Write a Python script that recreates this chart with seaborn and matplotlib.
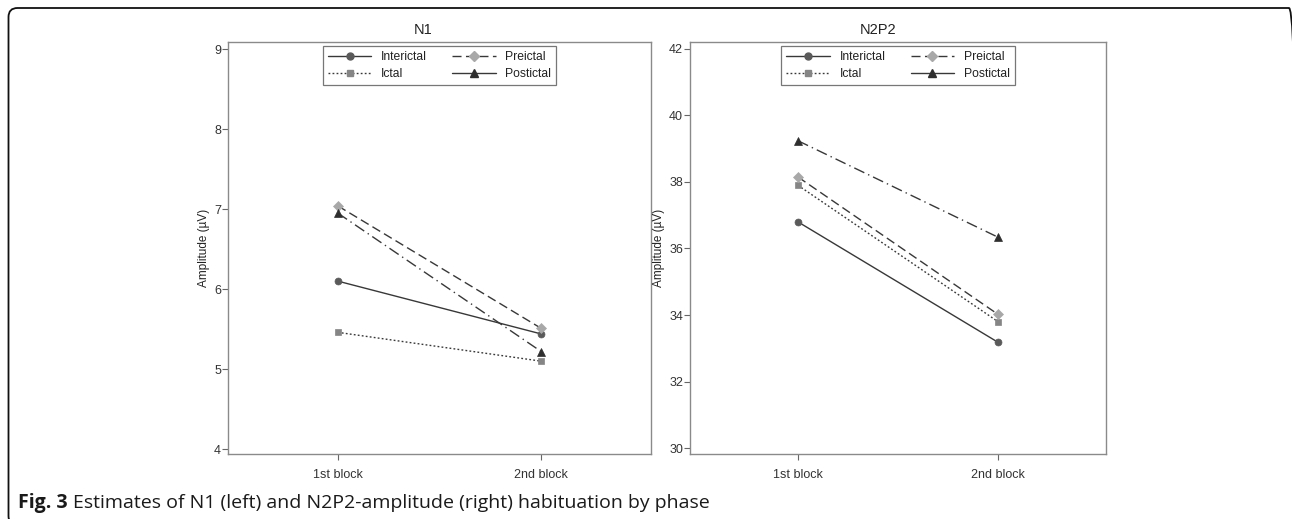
import matplotlib
matplotlib.use("Agg")
import matplotlib.pyplot as plt
from matplotlib.lines import Line2D
from matplotlib.patches import FancyBboxPatch
import seaborn as sns
import pandas as pd

# ---------------- data ----------------
blocks = ["1st block", "2nd block"]
phases = ["Interictal", "Ictal", "Preictal", "Postictal"]

n1_interictal = [6.10, 5.44]
n1_ictal = [5.46, 5.10]
n1_preictal = [7.04, 5.51]
n1_postictal = [6.95, 5.22]

n2p2_interictal = [36.80, 33.18]
n2p2_ictal = [37.90, 33.80]
n2p2_preictal = [38.15, 34.02]
n2p2_postictal = [39.24, 36.34]

n1_ticks = [4, 5, 6, 7, 8, 9]
n2p2_ticks = [30, 32, 34, 36, 38, 40, 42]

panel_titles = ["N1", "N2P2"]
y_label = "Amplitude (µV)"
caption_bold = "Fig. 3"
caption_text = "Estimates of N1 (left) and N2P2-amplitude (right) habituation by phase"

# ---------------- styles ----------------
line_col = "#383838"
styles = {
    "Interictal": dict(marker="o", mfc="#5a5a5a", ms=5.0, dashes=None, leg_ls="-"),
    "Ictal": dict(marker="s", mfc="#858585", ms=5.0, dashes=(1.3, 1.6), leg_ls=(0, (1.3, 1.6))),
    "Preictal": dict(marker="D", mfc="#a8a8a8", ms=4.6, dashes=(6.5, 3.2), leg_ls=(0, (6.5, 3.2))),
    "Postictal": dict(marker="^", mfc="#2e2e2e", ms=5.6, dashes=(8, 3, 1, 3), leg_ls="-"),
}

sns.set_theme(style="white")
plt.rcParams["font.family"] = ["Liberation Sans", "DejaVu Sans"]

W, H = 1292, 519
fig = plt.figure(figsize=(W / 100, H / 100), dpi=100)

def px_axes(x0, y0, x1, y1):
    return fig.add_axes([x0 / W, 1 - y1 / H, (x1 - x0) / W, (y1 - y0) / H])

ax1 = px_axes(228, 42, 651, 454)
ax2 = px_axes(690, 42, 1106, 454)

panels = [
    (ax1, {"Interictal": n1_interictal, "Ictal": n1_ictal,
           "Preictal": n1_preictal, "Postictal": n1_postictal},
     n1_ticks, (3.94, 9.0875), 0.462),
    (ax2, {"Interictal": n2p2_interictal, "Ictal": n2p2_ictal,
           "Preictal": n2p2_preictal, "Postictal": n2p2_postictal},
     n2p2_ticks, (29.82, 42.21), 0.452),
]

for (ax, series, ticks, ylim, tx), title in zip(panels, panel_titles):
    for ph in phases:
        st = styles[ph]
        df = pd.DataFrame({"pos": list(range(len(blocks))), "val": series[ph]})
        sns.lineplot(data=df, x="pos", y="val", ax=ax, color=line_col, lw=1.0,
                     marker=st["marker"], markersize=st["ms"],
                     markerfacecolor=st["mfc"], markeredgecolor=st["mfc"],
                     markeredgewidth=0.5, legend=False)
        ln = ax.lines[-1]
        if st["dashes"] is not None:
            ln.set_dashes(st["dashes"])
    ax.set_xlim(-0.54, 1.54)
    ax.set_ylim(*ylim)
    ax.set_xticks(range(len(blocks)))
    ax.set_xticklabels(blocks)
    ax.set_yticks(ticks)
    ax.set_yticklabels([str(t) for t in ticks])
    ax.set_xlabel("")
    ax.set_ylabel(y_label, fontsize=8.5, color="#222222", labelpad=3)
    ax.tick_params(axis="both", which="major", direction="out", length=4,
                   width=0.8, color="#666666", labelsize=9, labelcolor="#333333",
                   left=True, bottom=True)
    ax.tick_params(axis="y", pad=1)
    ax.tick_params(axis="x", pad=7)
    for s in ax.spines.values():
        s.set_visible(True)
        s.set_color("#8a8a8a")
        s.set_linewidth(1.0)
    ax.text(tx, 1.012, title, transform=ax.transAxes, ha="center", va="bottom",
            fontsize=10.5, color="#222222")

    handles = []
    labels = []
    for ph in phases:
        st = styles[ph]
        handles.append(Line2D([], [], color=line_col, lw=1.0, ls=st["leg_ls"],
                              marker=st["marker"], ms=st["ms"],
                              mfc=st["mfc"], mec=st["mfc"]))
        labels.append(ph)
    leg = ax.legend(handles, labels, ncol=2, loc="upper center",
                    bbox_to_anchor=(0.5, 0.991), fontsize=8.7, frameon=True,
                    fancybox=False, edgecolor="#777777", framealpha=1,
                    handlelength=3.6, handletextpad=0.8, columnspacing=2.1,
                    labelspacing=0.45, borderpad=0.42, borderaxespad=0)
    leg.get_frame().set_linewidth(0.9)
    for t in leg.get_texts():
        t.set_color("#222222")

# caption
t1 = fig.text(18 / W, 1 - 503 / H, caption_bold, fontsize=14, fontweight="bold",
              family=["Open Sans", "DejaVu Sans"], va="center", ha="left", color="#1a1a1a")
fig.canvas.draw()
bb = t1.get_window_extent(renderer=fig.canvas.get_renderer())
fig.text((bb.x1 + 5) / W, 1 - 503 / H, caption_text, fontsize=14,
         family=["Open Sans", "DejaVu Sans"], va="center", ha="left", color="#1a1a1a")

# outer rounded frame (right and bottom edges run off the image), in inches
frame = FancyBboxPatch((0.085, -0.06), 12.98 - 0.085, 5.11 + 0.06,
                       boxstyle="round,pad=0,rounding_size=0.09",
                       transform=fig.dpi_scale_trans, fill=False,
                       edgecolor="#111111", lw=1.3, clip_on=False)
fig.patches.append(frame)

fig.savefig("out.png", dpi=100)
